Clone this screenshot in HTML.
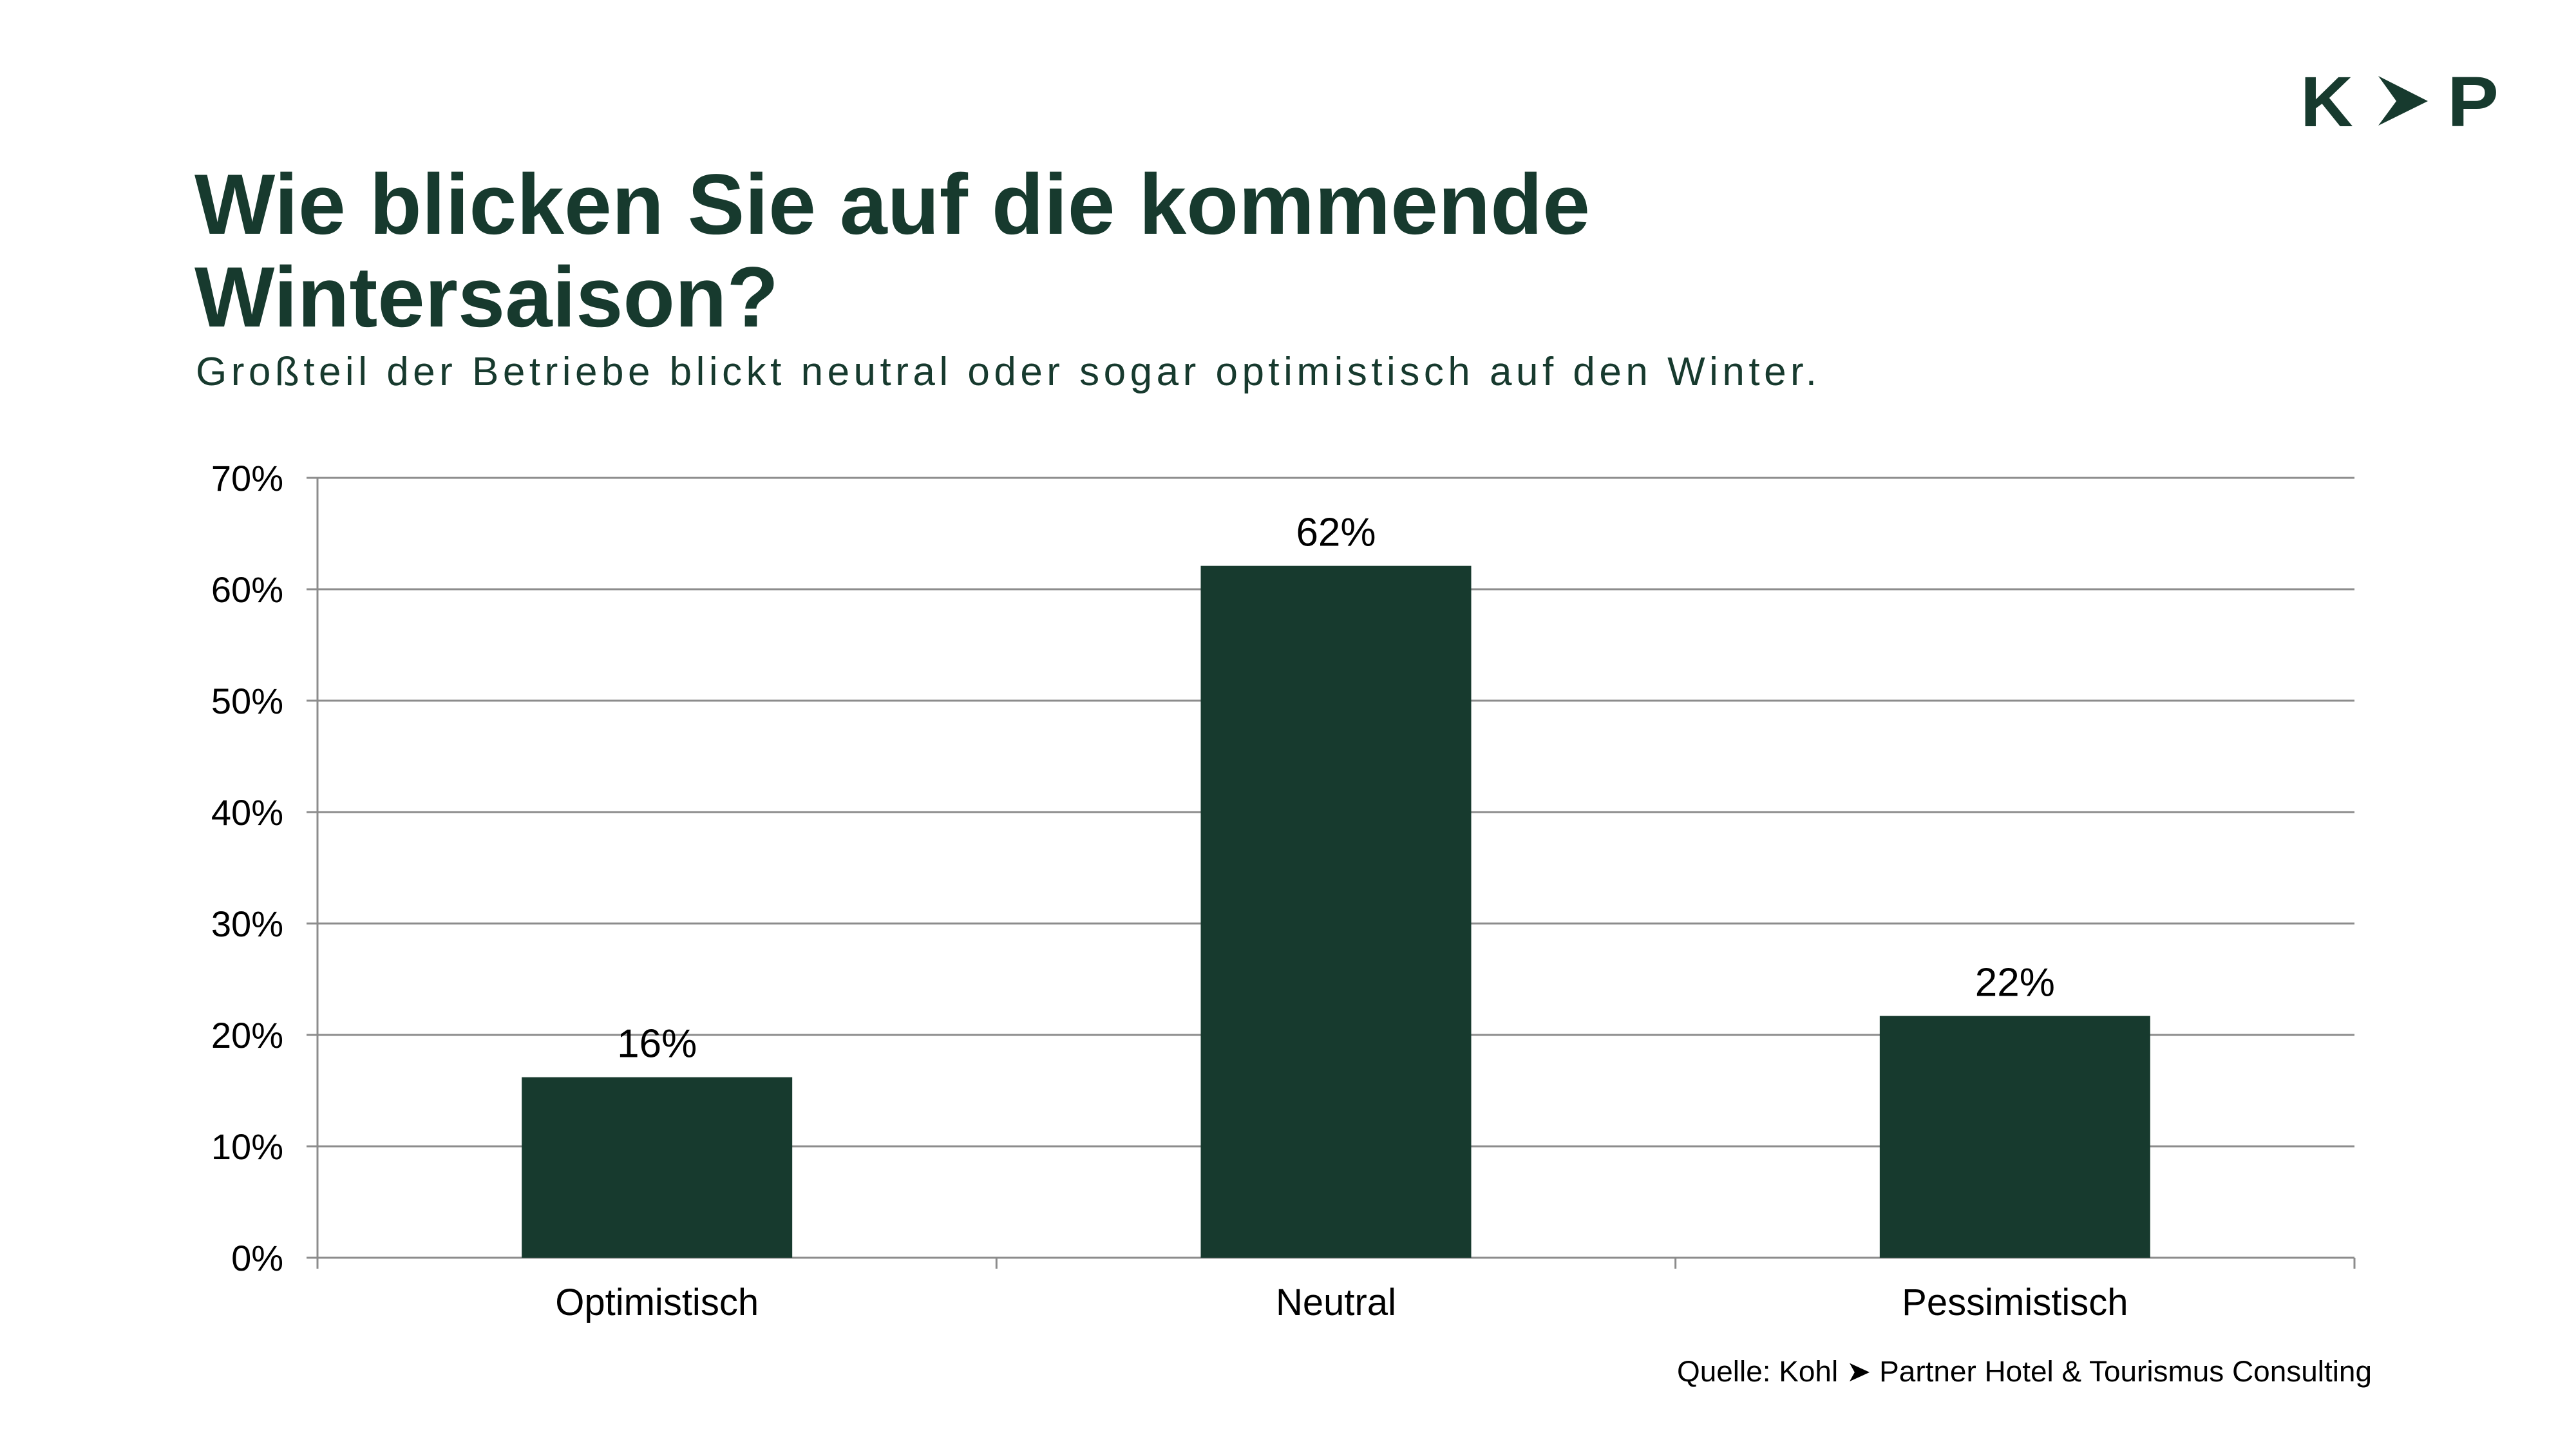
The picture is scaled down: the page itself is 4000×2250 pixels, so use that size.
<!DOCTYPE html>
<html><head><meta charset="utf-8"><style>
html,body{margin:0;padding:0;background:#fff}
svg{display:block}
text{font-family:"Liberation Sans",Arial,sans-serif}
</style></head><body>
<svg id="c" width="4000" height="2250" viewBox="0 0 4000 2250" xmlns="http://www.w3.org/2000/svg">
<g fill="#173a2e">
<text x="3572" y="196" font-size="110" font-weight="bold" textLength="82" lengthAdjust="spacingAndGlyphs">K</text>
<polygon points="3693,118 3770,157 3693,195 3721,157"/>
<text x="3800" y="196" font-size="110" font-weight="bold" textLength="80" lengthAdjust="spacingAndGlyphs">P</text>
</g>
<text x="302" y="363" font-size="133" font-weight="bold" fill="#173a2e" textLength="2167" lengthAdjust="spacingAndGlyphs">Wie blicken Sie auf die kommende</text>
<text x="302" y="507" font-size="133" font-weight="bold" fill="#173a2e" textLength="907" lengthAdjust="spacingAndGlyphs">Wintersaison?</text>
<text x="304" y="598" font-size="62" fill="#173a2e" textLength="2517" lengthAdjust="spacing">Großteil der Betriebe blickt neutral oder sogar optimistisch auf den Winter.</text>
<g id="grid"></g>
<g id="yt"></g>
<g id="bars"></g>
<g id="xl"></g>
<text x="2604" y="2145" font-size="45" fill="#000" textLength="1079" lengthAdjust="spacingAndGlyphs">Quelle: Kohl ➤ Partner Hotel &amp; Tourismus Consulting</text>
</svg>
<script>
const categories = ["Optimistisch", "Neutral", "Pessimistisch"];
const values = [16.2, 62.1, 21.7];
const valueLabels = ["16%", "62%", "22%"];
const yTicks = [0, 10, 20, 30, 40, 50, 60, 70];
const yTickLabels = ["0%", "10%", "20%", "30%", "40%", "50%", "60%", "70%"];

const NS = "http://www.w3.org/2000/svg";
const X0 = 493, X1 = 3656, Y0 = 1953, Y1 = 742, YMAX = 70;
const y = v => Y0 - (v / YMAX) * (Y0 - Y1);
const band = (X1 - X0) / categories.length;
const xc = i => X0 + band * (i + 0.5);
const bw = 420;
function mk(tag, attrs, parent, txt) {
  const e = document.createElementNS(NS, tag);
  for (const k in attrs) e.setAttribute(k, attrs[k]);
  if (txt !== undefined) e.textContent = txt;
  parent.appendChild(e);
  return e;
}
const grid = document.getElementById('grid');
const yt = document.getElementById('yt');
yTicks.forEach((t, i) => {
  const l = mk('line', {x1: X0 - 17, x2: X1, y1: y(t), y2: y(t), stroke: '#8c8c8c', 'stroke-width': 3}, grid);
  
  
  const tx = mk('text', {x: 440, y: y(t) + 20, 'font-size': 56, 'text-anchor': 'end', fill: '#000'}, yt, yTickLabels[i]);
  
  
});
const ax = mk('line', {x1: X0, x2: X0, y1: Y1, y2: Y0 + 17, stroke: '#8c8c8c', 'stroke-width': 3}, grid);


for (let i = 0; i <= categories.length; i++) {
  const tk = mk('line', {x1: X0 + band * i, x2: X0 + band * i, y1: Y0, y2: Y0 + 17, stroke: '#8c8c8c', 'stroke-width': 3}, grid);
  
  
}
const bars = document.getElementById('bars');
const xl = document.getElementById('xl');
categories.forEach((c, i) => {
  const r = mk('rect', {x: xc(i) - bw / 2, y: y(values[i]), width: bw, height: Y0 - y(values[i]), fill: '#173a2e'}, bars);
  
  
  const vl = mk('text', {x: xc(i), y: y(values[i]) - 31, 'font-size': 62, 'text-anchor': 'middle', fill: '#000'}, bars, valueLabels[i]);
  
  
  const cl = mk('text', {x: xc(i), y: 2042, 'font-size': 58, 'text-anchor': 'middle', fill: '#000'}, xl, c);
  
  
});
</script>
</body></html>
